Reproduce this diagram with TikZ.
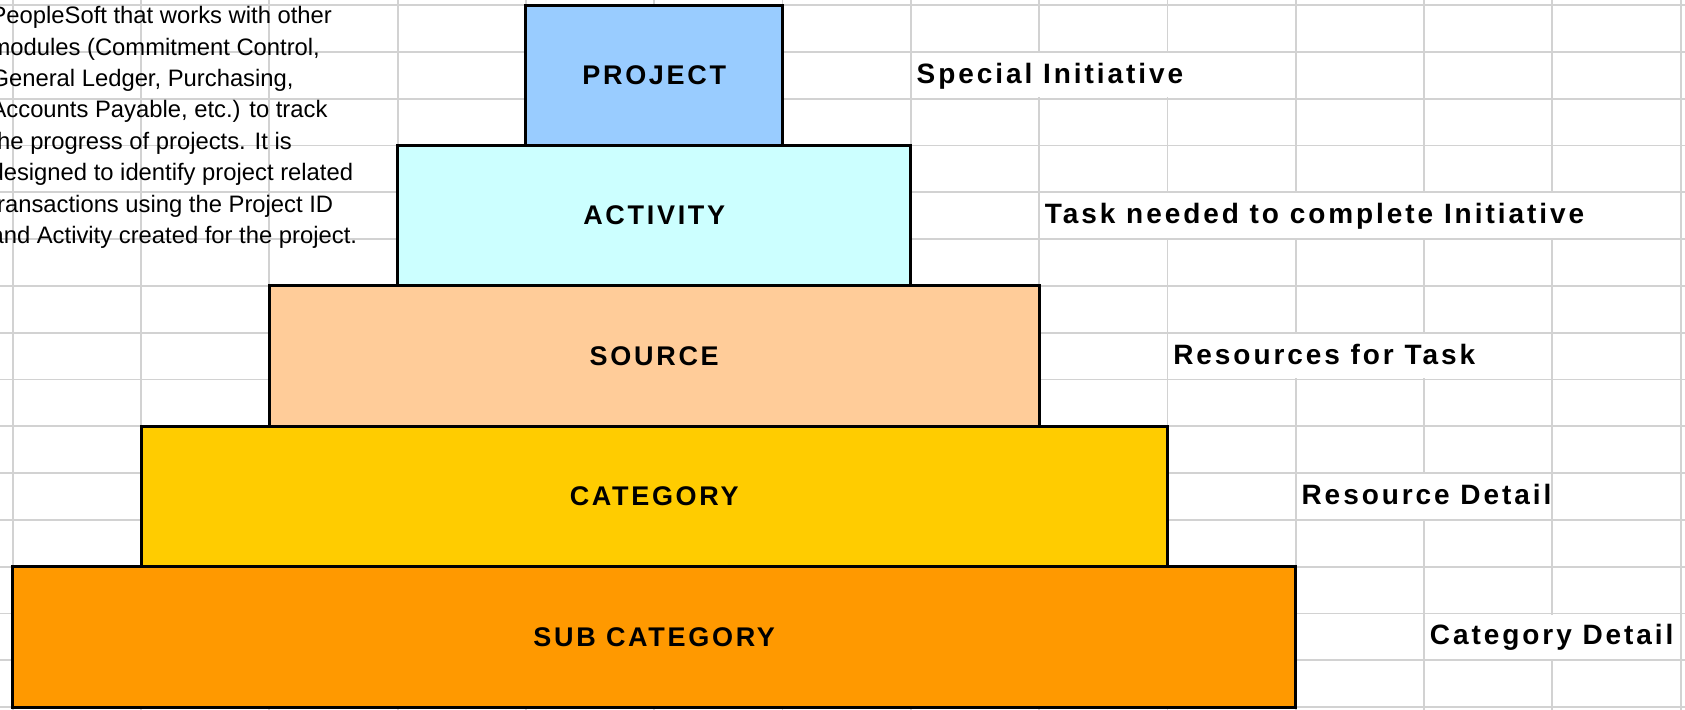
\documentclass[tikz,border=0pt]{standalone}
\usepackage{fontspec}
\setmainfont{Liberation Sans}
\newfontfamily\tierfont[LetterSpace=10]{Liberation Sans}
\newfontfamily\notefont[LetterSpace=10.5]{Liberation Sans}
\usepackage{xcolor}
\definecolor{projectc}{HTML}{99CCFF}
\definecolor{activityc}{HTML}{CCFFFF}
\definecolor{sourcec}{HTML}{FFCC99}
\definecolor{categoryc}{HTML}{FFCC00}
\definecolor{subcatc}{HTML}{FF9900}
\definecolor{gridc}{HTML}{D2D2D2}
\usetikzlibrary{positioning}
\newcommand{\colw}{128.3pt}
\newcommand{\rowh}{46.8pt}

\begin{document}
\begin{tikzpicture}[x=\colw,y=-\rowh]
\tikzstyle{tier}=[draw=black,line width=3pt,outer sep=0pt,inner sep=0pt,minimum height=3*\rowh,font=\tierfont\bfseries\fontsize{27}{27}\selectfont]
\tikzstyle{note}=[anchor=base west,inner sep=0pt,font=\notefont\bfseries\fontsize{28}{28}\selectfont]
\tikzstyle{cell}=[gridc,line width=1.8pt]
\useasboundingbox (-0.099,-0.107) rectangle (13.034,15.043);
\clip (-0.099,-0.107) rectangle (13.034,15.043);
% worksheet grid
\foreach \c in {0,...,13} \draw[cell] (\c,-0.2) -- (\c,15.2);
\foreach \r in {0,...,15} \draw[cell] (-0.2,\r) -- (13.2,\r);
% cells the notes spill over lose their inner lines
\foreach \r/\c/\e in {1/7/9,4/8/12,7/9/11,10/10/11,13/11/12}
  \fill[white] (\c+0.01,\r+0.025) rectangle (\e+0.99,\r+0.975);
% the tiers
\node[tier,fill=projectc,minimum width=2*\colw] (project) at (5,1.5) {PROJECT};
\node[tier,fill=activityc,minimum width=4*\colw,below=0pt of project] (activity) {ACTIVITY};
\node[tier,fill=sourcec,minimum width=6*\colw,below=0pt of activity] (source) {SOURCE};
\node[tier,fill=categoryc,minimum width=8*\colw,below=0pt of source] (category) {CATEGORY};
\node[tier,fill=subcatc,minimum width=10*\colw,below=0pt of category] (subcat) {SUB CATEGORY};
% what each tier stands for
\node[note] (projectnote) at (7.044,1.673) {Special Initiative};
\node[note] (activitynote) at (8.044,4.673) {Task needed to complete Initiative};
\node[note] (sourcenote) at (9.044,7.673) {Resources for Task};
\node[note] (categorynote) at (10.044,10.673) {Resource Detail};
\node[note] (subcatnote) at (11.044,13.673) {Category Detail};
% text box over the sheet
\node[anchor=north west,align=left,inner sep=0pt,font=\fontsize{23.8}{31.4}\selectfont] (blurb) at (-0.174,0.028)
  {PeopleSoft that works with other\\
   modules (Commitment Control,\\
   General Ledger, Purchasing,\\
   Accounts Payable, etc.) to track\\
   the progress of projects. It is\\
   designed to identify project related\\
   transactions using the Project ID\\
   and Activity created for the project.};
\end{tikzpicture}
\end{document}
